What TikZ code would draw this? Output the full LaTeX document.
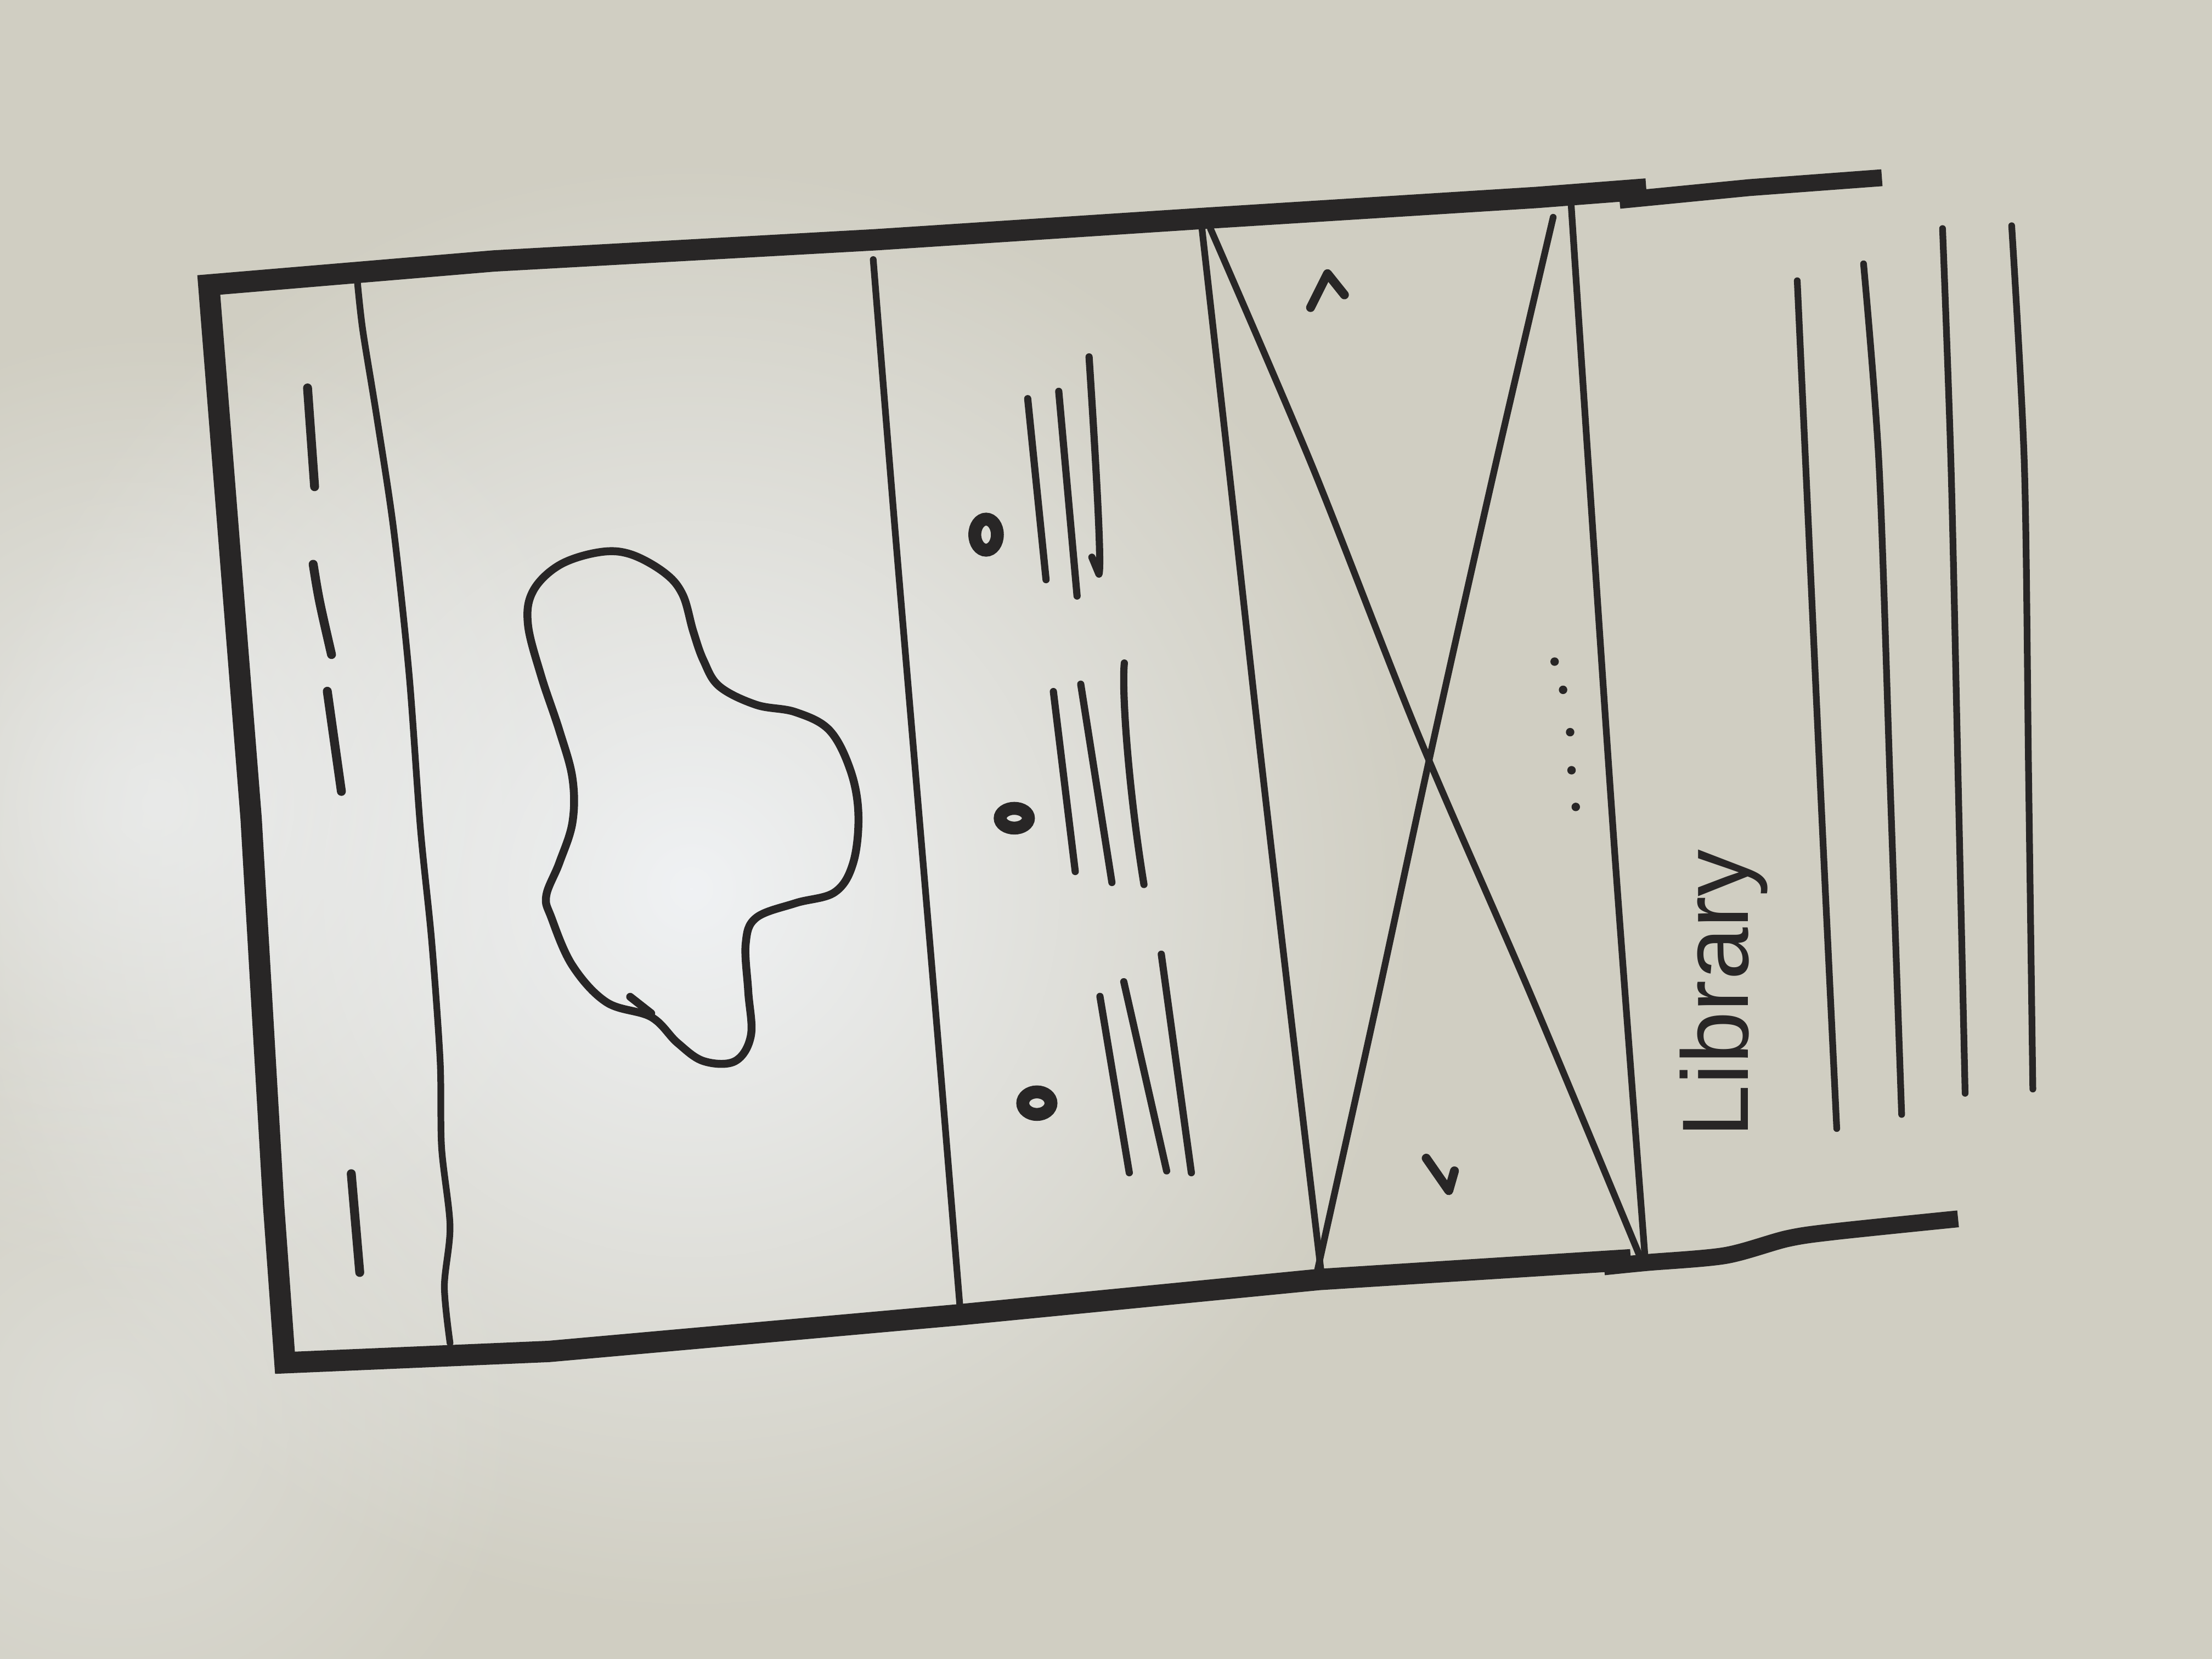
\documentclass[tikz,border=0pt]{standalone}
\usepackage{fontspec}
\setmainfont{Liberation Sans}
\usetikzlibrary{fadings}
\definecolor{ink}{RGB}{40,38,38}
\definecolor{board}{RGB}{208,206,194}
\definecolor{glare}{RGB}{240,242,244}
\tikzfading[name=glowfade, inner color=transparent!0, outer color=transparent!100]
\tikzset{
  framestroke/.style={draw=ink, line width=4.3pt, line cap=butt, line join=miter},
  framepiece/.style={draw=ink, line width=3.4pt, line cap=butt, line join=round},
  thinstroke/.style={draw=ink, line width=1.35pt, line cap=round, line join=round},
  dashstroke/.style={draw=ink, line width=1.8pt, line cap=round},
  textline/.style={draw=ink, line width=1.45pt, line cap=round, line join=round},
  bulletring/.style={draw=ink, line width=2.6pt},
  caretstroke/.style={draw=ink, line width=1.8pt, line cap=round, line join=round},
  blobstroke/.style={draw=ink, line width=1.6pt, line cap=round, line join=round}
}
\begin{document}
\begin{tikzpicture}[x=0.01cm,y=-0.01cm]
\useasboundingbox (0,0) rectangle (1568,1176);
\fill[board] (0,0) rectangle (1568,1176);
\begin{scope}
  \clip (0,0) rectangle (1568,1176);
  \fill[glare, path fading=glowfade] (490,630) circle (520);
  \fill[glare, path fading=glowfade, fill opacity=0.7] (110,570) circle (340);
  \fill[glare, path fading=glowfade, fill opacity=0.4] (80,1000) circle (300);
\end{scope}

% outer frame
\draw[framestroke] (1167,134) -- (1089,140) -- (850,155) -- (620,170) -- (350,185) -- (148,202)
  -- (178,580) -- (194,855) -- (202,966)
  -- (389,958) -- (680,932) -- (935,907) -- (1156,893);
\draw[framepiece] (1148,142) -- (1240,133) -- (1334,126);
\draw[framepiece] plot[smooth] coordinates {(1137,898) (1167,895) (1223,890) (1267,878) (1301,873) (1388,864)};

% dividers
\draw[thinstroke] plot[smooth] coordinates {(253,196) (257,233) (267,295) (279,375) (290,478) (298,587) (306,667) (312,752) (313,813) (319,869) (315,912) (319,952)};
\draw[thinstroke] plot[smooth] coordinates {(619,184) (634,370) (650,560) (666,750) (681,933)};
\draw[thinstroke] plot[smooth] coordinates {(851,153) (872,340) (893,530) (915,720) (937,906)};
\draw[thinstroke] plot[smooth] coordinates {(1113,134) (1126,330) (1145,610) (1166,890)};

% X in the image panel
\draw[thinstroke] plot[smooth] coordinates {(858,162) (930,330) (1005,520) (1085,705) (1163,892)};
\draw[thinstroke] plot[smooth] coordinates {(1101,154) (1060,330) (1015,530) (975,715) (934,900)};

% carets and dots
\draw[caretstroke] (929,218) -- (941,194) -- (953,209);
\draw[caretstroke] (1011,821) -- (1027,844) -- (1031,830);
\foreach \p in {(1102,469),(1108,489),(1113,519),(1114,546),(1117,572)}
  \fill[ink] \p circle (3);

% first panel dashes
\draw[dashstroke] (218,275) -- (223,345);
\draw[dashstroke] (222,400) .. controls (226,425) .. (235,464);
\draw[dashstroke] (232,490) -- (242,561);
\draw[dashstroke] (249,832) -- (255,902);

% blob
\draw[blobstroke] plot[smooth cycle, tension=0.6] coordinates {
 (461.6,720.9) (430.0,710.5) (405.8,684.5) (390.9,650.6) (387.2,635.0) (396.5,611.6)
 (405.8,582.9) (405.8,551.7) (396.5,517.8) (383.5,478.8) (374.2,442.3) (377.9,418.9)
 (396.5,400.6) (424.4,391.5) (446.7,392.8) (470.9,405.9) (483.9,421.5) (491.4,447.5)
 (498.8,468.4) (510.0,486.6) (536.0,499.6) (563.9,504.8) (588.1,517.8) (603.0,546.5)
 (608.5,577.7) (604.8,611.6) (591.8,632.4) (563.9,640.2) (536.0,650.6) (528.6,668.9)
 (530.4,702.7) (532.3,734.0) (521.1,752.2) (498.8,752.2) (480.2,739.2)};
\draw[blobstroke] (446.7,706.6) -- (461.6,718.3);

% list items
\draw[bulletring] (699,379) ellipse (8 and 11);
\draw[bulletring] (719,580) ellipse (10 and 7);
\draw[bulletring] (735,782) ellipse (10 and 8);

\draw[textline] (728.5,282.6) -- (741.5,410.9);
\draw[textline] (750.5,277.4) -- (763.5,422.5);
\draw[textline] (772,253) .. controls (777,330) and (781,400) .. (779,407) -- (774,395);

\draw[textline] (746.7,490.2) -- (762.2,617.8);
\draw[textline] (766.1,485.0) -- (788.2,625.6);
\draw[textline] (797,470) .. controls (795,490) and (800,560) .. (810.9,627);

\draw[textline] (779.7,706.3) -- (800.5,831.3);
\draw[textline] (796.6,695.9) -- (827.0,830.0);
\draw[textline] (823.2,676.4) -- (844.5,831.3);

% library panel
\node[rotate=90, anchor=base west, inner sep=0pt, text=ink, font=\fontsize{19}{19}\selectfont] (lib) at (1239,807) {Library};
\draw[thinstroke] plot[smooth] coordinates {(1274,199) (1280,330) (1291,570) (1302,800)};
\draw[thinstroke] plot[smooth] coordinates {(1321,187) (1332,330) (1340,560) (1348,790)};
\draw[thinstroke] plot[smooth] coordinates {(1377,162) (1383,330) (1388,550) (1393,775)};
\draw[thinstroke] plot[smooth] coordinates {(1426,160) (1435,330) (1438,550) (1441,772)};
\end{tikzpicture}
\end{document}
